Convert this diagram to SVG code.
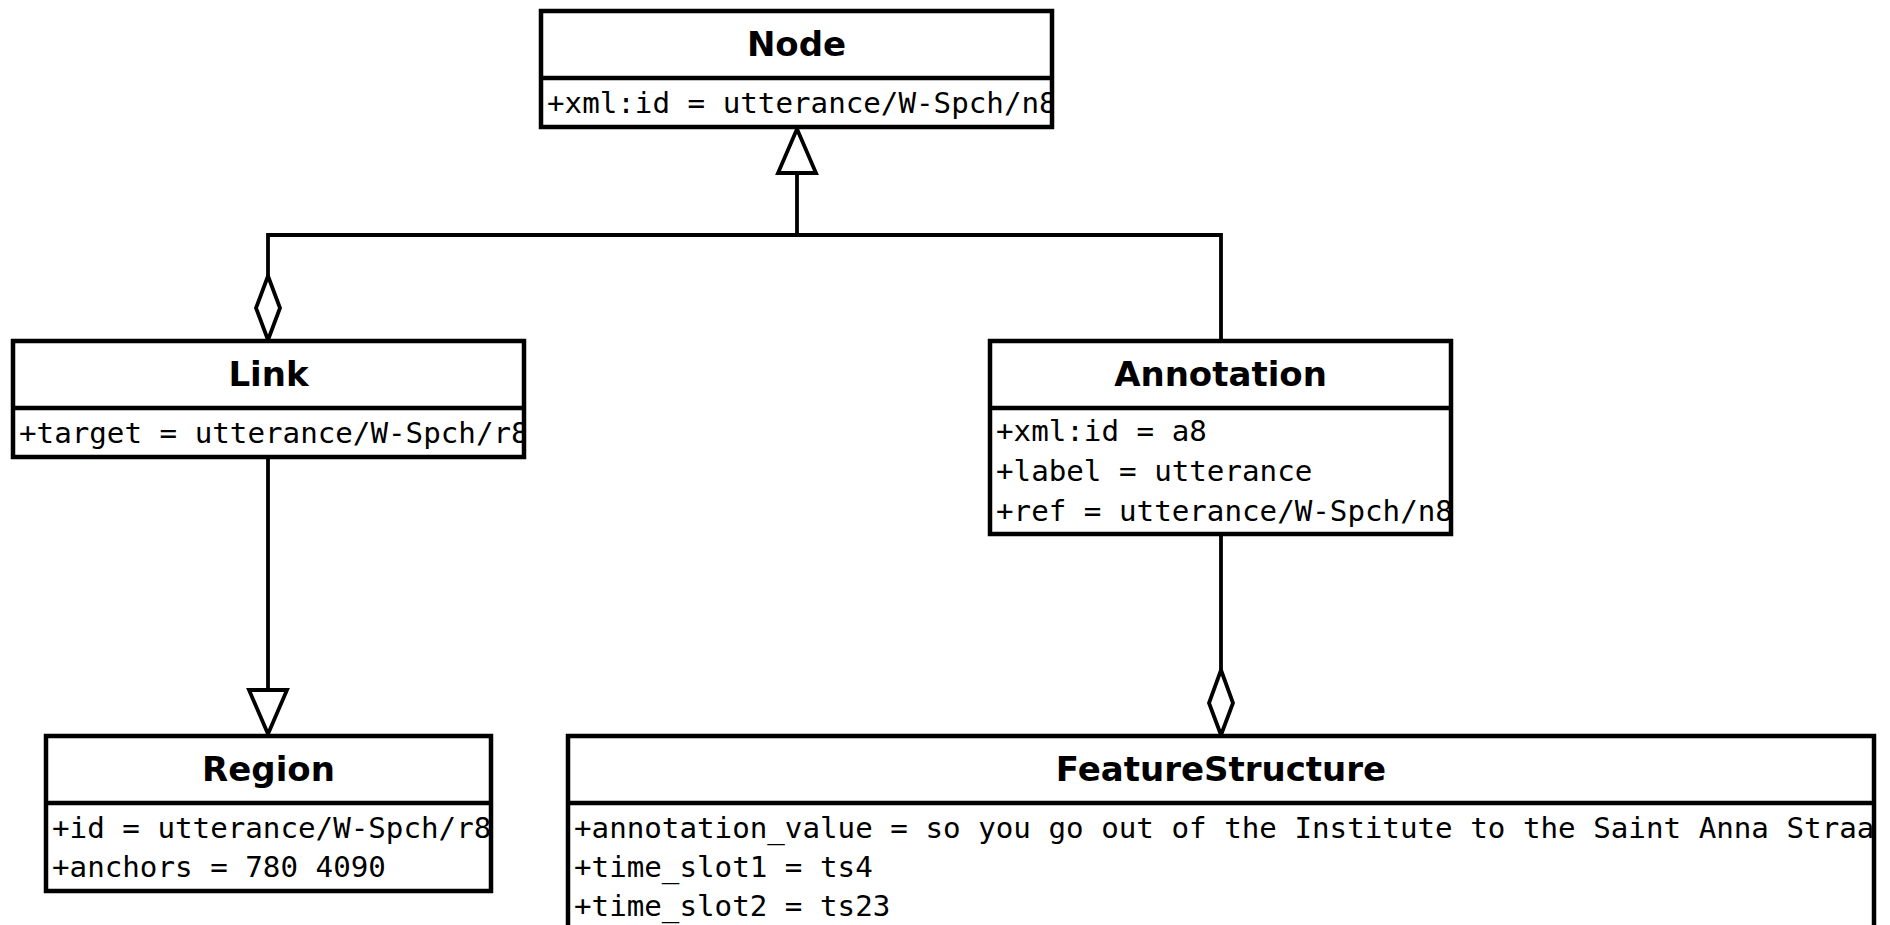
<svg xmlns="http://www.w3.org/2000/svg" width="1890" height="925" viewBox="0 0 1890 925">
  <style>
    .box { fill: #ffffff; stroke: #000000; stroke-width: 4.5; }
    .sep { stroke: #000000; stroke-width: 4.5; }
    .title { font-family: "DejaVu Sans", "Liberation Sans", sans-serif; font-weight: bold; font-size: 34px; fill: #000000; text-anchor: middle; }
    .attr { font-family: "DejaVu Sans Mono", "Liberation Mono", monospace; font-size: 29.2px; fill: #000000; }
    .edge { fill: none; stroke: #000000; stroke-width: 3.8; }
    .head { fill: #ffffff; stroke: #000000; stroke-width: 3.8; stroke-linejoin: miter; }
  </style>
  <defs>
    <clipPath id="clip-node"><rect x="541" y="77" width="509" height="50"/></clipPath>
    <clipPath id="clip-link"><rect x="13" y="407" width="509" height="50"/></clipPath>
    <clipPath id="clip-annotation"><rect x="990" y="407" width="459" height="127"/></clipPath>
    <clipPath id="clip-region"><rect x="46" y="802" width="443" height="89"/></clipPath>
    <clipPath id="clip-fs"><rect x="568" y="802" width="1304" height="140"/></clipPath>
  </defs>

  <rect width="1890" height="925" fill="#ffffff"/>

  <!-- connectors -->
  <g id="connectors">
    <!-- shared bus from Link and Annotation up to Node -->
    <polyline class="edge" points="268,341 268,235 1221,235 1221,341"/>
    <line class="edge" x1="797" y1="235" x2="797" y2="173"/>
    <polygon class="head" points="797,129 816,173 778,173"/>
    <!-- aggregation diamond on Link side -->
    <polygon class="head" points="268,276 280,308 268,340 256,308"/>
    <!-- Link to Region generalization -->
    <line class="edge" x1="268" y1="457" x2="268" y2="690"/>
    <polygon class="head" points="268,734 287,690 249,690"/>
    <!-- Annotation to FeatureStructure aggregation -->
    <line class="edge" x1="1221" y1="534" x2="1221" y2="670"/>
    <polygon class="head" points="1221,670 1233,703 1221,735 1209,703"/>
  </g>

  <!-- Node -->
  <g id="node-node">
    <rect class="box" x="541" y="11" width="511" height="116"/>
    <line class="sep" x1="541" y1="78" x2="1052" y2="78"/>
    <text class="title" x="796.5" y="56">Node</text>
    <g clip-path="url(#clip-node)">
      <text class="attr" x="547" y="113">+xml:id = utterance/W-Spch/n8</text>
    </g>
  </g>

  <!-- Link -->
  <g id="node-link">
    <rect class="box" x="13" y="341" width="511" height="116"/>
    <line class="sep" x1="13" y1="408" x2="524" y2="408"/>
    <text class="title" x="268.5" y="386">Link</text>
    <g clip-path="url(#clip-link)">
      <text class="attr" x="19" y="443">+target = utterance/W-Spch/r8</text>
    </g>
  </g>

  <!-- Annotation -->
  <g id="node-annotation">
    <rect class="box" x="990" y="341" width="461" height="193"/>
    <line class="sep" x1="990" y1="408" x2="1451" y2="408"/>
    <text class="title" x="1220.5" y="386">Annotation</text>
    <g clip-path="url(#clip-annotation)">
      <text class="attr" x="996" y="441">+xml:id = a8</text>
      <text class="attr" x="996" y="481">+label = utterance</text>
      <text class="attr" x="996" y="521">+ref = utterance/W-Spch/n8</text>
    </g>
  </g>

  <!-- Region -->
  <g id="node-region">
    <rect class="box" x="46" y="736" width="445" height="155"/>
    <line class="sep" x1="46" y1="803" x2="491" y2="803"/>
    <text class="title" x="268.5" y="781">Region</text>
    <g clip-path="url(#clip-region)">
      <text class="attr" x="52" y="838">+id = utterance/W-Spch/r8</text>
      <text class="attr" x="52" y="877">+anchors = 780 4090</text>
    </g>
  </g>

  <!-- FeatureStructure (continues below the visible area) -->
  <g id="node-featurestructure">
    <rect class="box" x="568" y="736" width="1306" height="220"/>
    <line class="sep" x1="568" y1="803" x2="1874" y2="803"/>
    <text class="title" x="1221" y="781">FeatureStructure</text>
    <g clip-path="url(#clip-fs)">
      <text class="attr" x="574" y="838">+annotation_value = so you go out of the Institute to the Saint Anna Straa</text>
      <text class="attr" x="574" y="877">+time_slot1 = ts4</text>
      <text class="attr" x="574" y="916">+time_slot2 = ts23</text>
    </g>
  </g>
</svg>
